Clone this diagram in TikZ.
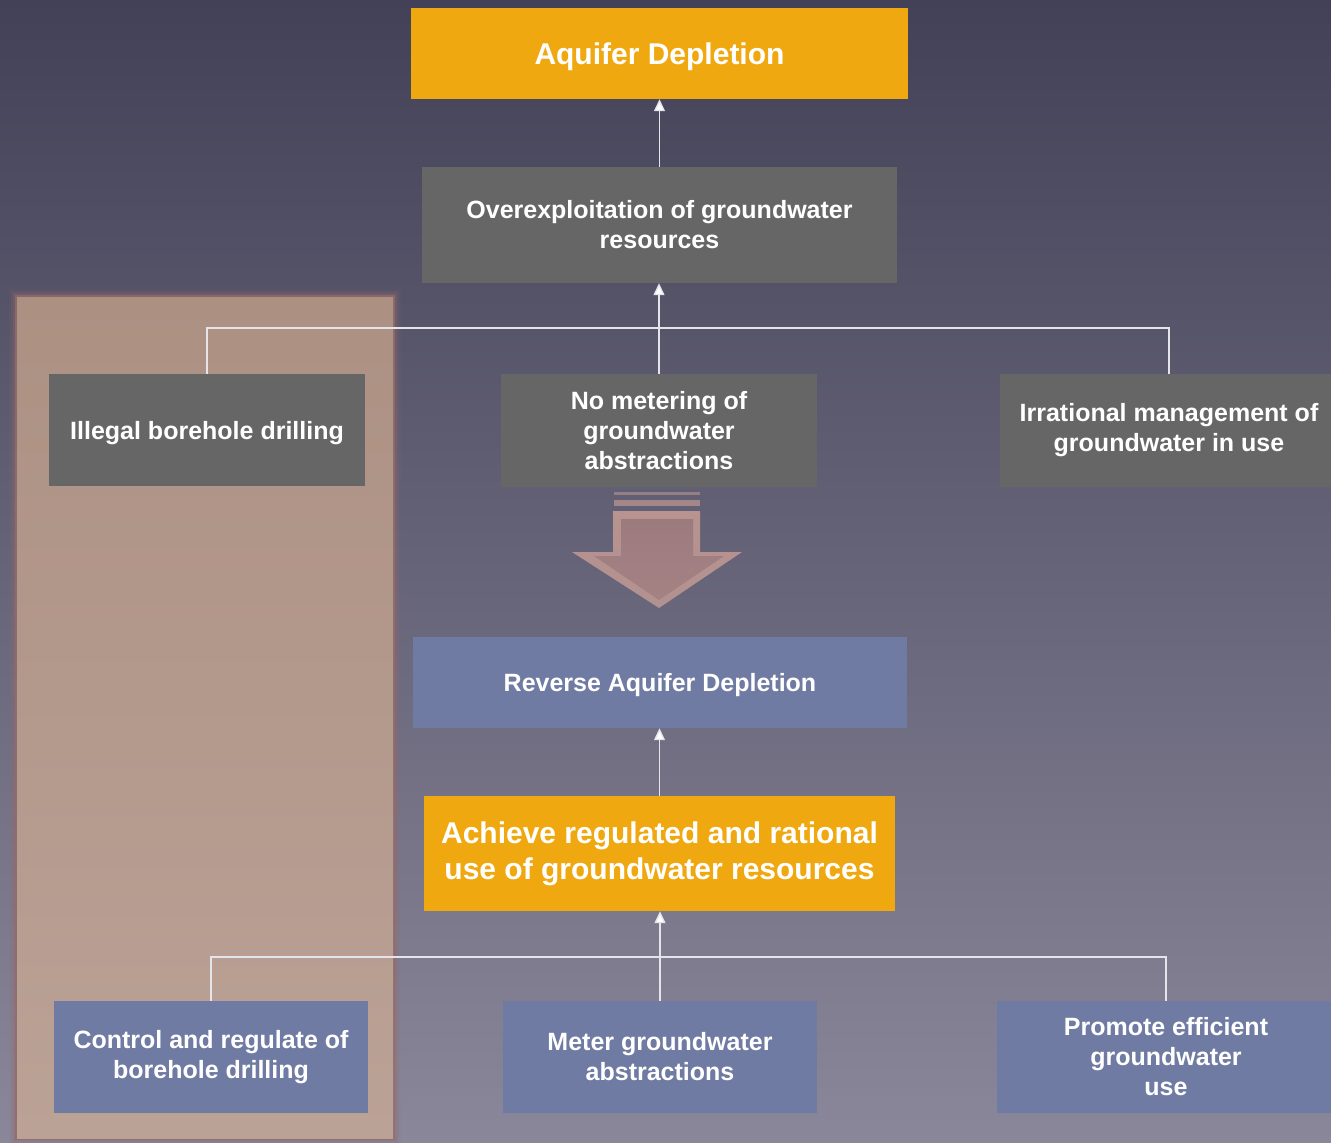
\documentclass[tikz,border=0pt]{standalone}
\usepackage{fontspec}
\setmainfont{Liberation Sans}
\usetikzlibrary{arrows.meta}
\definecolor{bgtop}{HTML}{434157}
\definecolor{bgbot}{HTML}{8A879A}
\definecolor{orangebox}{HTML}{F0A810}
\definecolor{graybox}{HTML}{666666}
\definecolor{bluebox}{HTML}{707BA3}
\definecolor{hltop}{HTML}{AC9183}
\definecolor{hlbot}{HTML}{BBA296}
\definecolor{glow}{HTML}{946B6B}
\definecolor{arrowout}{HTML}{B8938F}
\definecolor{arrowin}{HTML}{9C7B7F}
\definecolor{linecol}{HTML}{E4E4EA}
\begin{document}
\begin{tikzpicture}[x=1pt,y=-1pt,
  box/.style={rectangle, inner sep=0pt, align=center, text=white,
    font=\bfseries\fontsize{25}{30}\selectfont},
  gbox/.style={box, fill=graybox},
  bbox/.style={box, fill=bluebox},
  obox/.style={box, fill=orangebox},
  oneline/.style={text depth=0pt},
  conn/.style={draw=linecol, line width=1.3pt},
  arr/.style={conn, -{Triangle[length=12pt,width=11pt,fill=white]}}]
\useasboundingbox (0,0) rectangle (1331,1143);
% background
\shade[top color=bgtop, bottom color=bgbot] (0,0) rectangle (1331,1143);
% highlight column
\foreach \d/\o in {6/0.08,4/0.14,2/0.22}
  \fill[glow, opacity=\o] (15-\d,295-\d) rectangle (395+\d,1140+\d);
\fill[glow, opacity=0.8] (15,295) rectangle (395,1140);
\shade[top color=hltop, bottom color=hlbot] (17,297) rectangle (393,1138);
% nodes
\node[obox, oneline, minimum width=497pt, minimum height=91pt,
  font=\bfseries\fontsize{30}{36}\selectfont] (aq) at (659.5,53.5) {Aquifer Depletion};
\node[gbox, minimum width=475pt, minimum height=116pt] (over) at (659.5,225)
  {Overexploitation of groundwater\\resources};
\node[gbox, oneline, minimum width=316pt, minimum height=112pt] (ill) at (207,430)
  {Illegal borehole drilling};
\node[gbox, minimum width=316pt, minimum height=113pt] (nom) at (659,430.5)
  {No metering of\\groundwater\\abstractions};
\fill[graybox] (1000,374) rectangle (1331,487);
\node[box, minimum width=338pt, minimum height=113pt] (irr) at (1169,430.5)
  {Irrational management of\\groundwater in use};
\node[bbox, oneline, minimum width=494pt, minimum height=91pt] (rev) at (660,682.5)
  {Reverse Aquifer Depletion};
\node[obox, minimum width=471pt, minimum height=115pt,
  font=\bfseries\fontsize{30}{36}\selectfont] (ach) at (659.5,853.5)
  {Achieve regulated and rational\\use of groundwater resources};
\node[bbox, minimum width=314pt, minimum height=112pt] (ctl) at (211,1057)
  {Control and regulate of\\borehole drilling};
\node[bbox, minimum width=314pt, minimum height=112pt] (met) at (660,1057)
  {Meter groundwater\\abstractions};
\fill[bluebox] (997,1001) rectangle (1331,1113);
\node[box, minimum width=338pt, minimum height=112pt] (pro) at (1166,1057)
  {Promote efficient\\groundwater\\use};
% big down arrow
\fill[arrowout, opacity=0.6] (614,492) rectangle (700,495);
\fill[arrowout, opacity=0.75] (614,500) rectangle (700,506);
\shade[top color=arrowout, bottom color=arrowout!85!bgbot]
  (613,511) -- (700,511) -- (700,552) -- (742,552) -- (659,608)
  -- (572,552) -- (613,552) -- cycle;
\shade[top color=arrowin, bottom color=arrowin!70!arrowout]
  (621,519) -- (693,519) -- (693,556) -- (724,556) -- (659,600)
  -- (594,556) -- (621,556) -- cycle;
% connectors
\coordinate (t1) at (659,328);
\coordinate (t2) at (660,957);
\draw[arr] (over.north) -- (over.north |- aq.south);
\draw[conn] (ill.north) |- (t1) -| (irr.north);
\draw[arr] (nom.north) -- (nom.north |- over.south);
\draw[arr] (ach.north) -- (ach.north |- rev.south);
\draw[conn] (ctl.north) |- (t2) -| (pro.north);
\draw[arr] (met.north) -- (met.north |- ach.south);
\end{tikzpicture}
\end{document}
